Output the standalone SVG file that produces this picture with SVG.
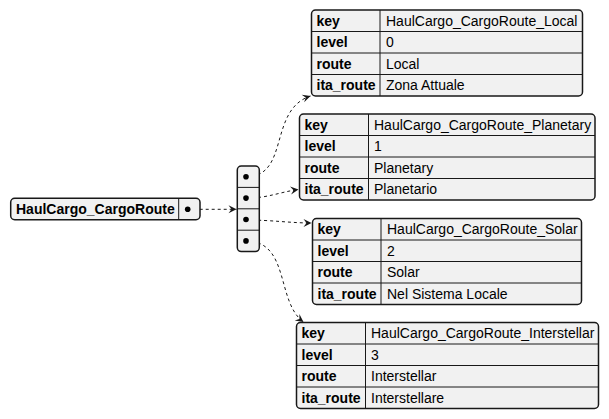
<svg xmlns="http://www.w3.org/2000/svg" width="609" height="419" viewBox="0 0 609 419">
<style>
.box{fill:#F1F1F1;stroke:#181818;stroke-width:1.5}
.ln{stroke:#181818;stroke-width:1}
.k{font-family:"Liberation Sans",Arial,sans-serif;font-size:14px;font-weight:bold;fill:#000}
.v{font-family:"Liberation Sans",Arial,sans-serif;font-size:14px;fill:#000}
.dot{fill:#000}
.con{fill:none;stroke:#181818;stroke-width:1;stroke-dasharray:3,3}
</style>
<defs>
<marker id="ah" viewBox="-10 -6 12 12" refX="0" refY="0" markerWidth="12" markerHeight="12" markerUnits="userSpaceOnUse" orient="auto">
<path d="M0,0 L-8,-4 L-5,0 L-8,4 Z" fill="#181818"/>
</marker>
</defs>
<g id="connectors">
<path class="con" d="M187.7,209.3 L236.5,209.3" marker-end="url(#ah)"/>
<path class="con" d="M246,176.7 C290,177 268,110 310.5,96" marker-end="url(#ah)"/>
<path class="con" d="M246,198.3 C268,198 280,192 298.5,189.5" marker-end="url(#ah)"/>
<path class="con" d="M246,220 C272,220 290,223 311.5,223" marker-end="url(#ah)"/>
<path class="con" d="M246,240.9 C290,241 276,302 303.5,322" marker-end="url(#ah)"/>
</g>
<g id="HaulCargo_CargoRoute">
<rect class="box" x="10.7" y="198.3" width="189.3" height="21.4" rx="4"/>
<line class="ln" x1="178.7" y1="198.3" x2="178.7" y2="219.7"/>
<text class="k" x="16" y="214">HaulCargo_CargoRoute</text>
<circle class="dot" cx="187.7" cy="209.3" r="2.8"/>
</g>
<g id="array">
<rect class="box" x="237.3" y="166" width="22" height="85.6" rx="4"/>
<line class="ln" x1="237.3" y1="187.4" x2="259.3" y2="187.4"/>
<line class="ln" x1="237.3" y1="208.8" x2="259.3" y2="208.8"/>
<line class="ln" x1="237.3" y1="230.2" x2="259.3" y2="230.2"/>
<circle class="dot" cx="246" cy="176.7" r="2.8"/>
<circle class="dot" cx="246" cy="198.1" r="2.8"/>
<circle class="dot" cx="246" cy="219.5" r="2.8"/>
<circle class="dot" cx="246" cy="240.9" r="2.8"/>
</g>
<g id="Local">
<rect class="box" x="311.5" y="10" width="271" height="86" rx="4"/>
<line class="ln" x1="380" y1="10" x2="380" y2="96"/>
<line class="ln" x1="311.5" y1="31.5" x2="582.5" y2="31.5"/>
<line class="ln" x1="311.5" y1="53" x2="582.5" y2="53"/>
<line class="ln" x1="311.5" y1="74.5" x2="582.5" y2="74.5"/>
<text class="k" x="316.5" y="25.5">key</text><text class="v" x="386" y="25.5">HaulCargo_CargoRoute_Local</text>
<text class="k" x="316.5" y="47">level</text><text class="v" x="386" y="47">0</text>
<text class="k" x="316.5" y="68.5">route</text><text class="v" x="386" y="68.5">Local</text>
<text class="k" x="316.5" y="90">ita_route</text><text class="v" x="386" y="90">Zona Attuale</text>
</g>
<g id="Planetary">
<rect class="box" x="299.5" y="114" width="295.5" height="86" rx="4"/>
<line class="ln" x1="368.5" y1="114" x2="368.5" y2="200"/>
<line class="ln" x1="299.5" y1="135.5" x2="595" y2="135.5"/>
<line class="ln" x1="299.5" y1="157" x2="595" y2="157"/>
<line class="ln" x1="299.5" y1="178.5" x2="595" y2="178.5"/>
<text class="k" x="304.5" y="129.5">key</text><text class="v" x="374" y="129.5">HaulCargo_CargoRoute_Planetary</text>
<text class="k" x="304.5" y="151">level</text><text class="v" x="374" y="151">1</text>
<text class="k" x="304.5" y="172.5">route</text><text class="v" x="374" y="172.5">Planetary</text>
<text class="k" x="304.5" y="194">ita_route</text><text class="v" x="374" y="194">Planetario</text>
</g>
<g id="Solar">
<rect class="box" x="312.5" y="218.5" width="269" height="86" rx="4"/>
<line class="ln" x1="381" y1="218.5" x2="381" y2="304.5"/>
<line class="ln" x1="312.5" y1="240" x2="581.5" y2="240"/>
<line class="ln" x1="312.5" y1="261.5" x2="581.5" y2="261.5"/>
<line class="ln" x1="312.5" y1="283" x2="581.5" y2="283"/>
<text class="k" x="317.5" y="234">key</text><text class="v" x="387" y="234">HaulCargo_CargoRoute_Solar</text>
<text class="k" x="317.5" y="255.5">level</text><text class="v" x="387" y="255.5">2</text>
<text class="k" x="317.5" y="277">route</text><text class="v" x="387" y="277">Solar</text>
<text class="k" x="317.5" y="298.5">ita_route</text><text class="v" x="387" y="298.5">Nel Sistema Locale</text>
</g>
<g id="Interstellar">
<rect class="box" x="296.5" y="322.5" width="302" height="86" rx="4"/>
<line class="ln" x1="365.5" y1="322.5" x2="365.5" y2="408.5"/>
<line class="ln" x1="296.5" y1="344" x2="598.5" y2="344"/>
<line class="ln" x1="296.5" y1="365.5" x2="598.5" y2="365.5"/>
<line class="ln" x1="296.5" y1="387" x2="598.5" y2="387"/>
<text class="k" x="301.5" y="338">key</text><text class="v" x="371" y="338">HaulCargo_CargoRoute_Interstellar</text>
<text class="k" x="301.5" y="359.5">level</text><text class="v" x="371" y="359.5">3</text>
<text class="k" x="301.5" y="381">route</text><text class="v" x="371" y="381">Interstellar</text>
<text class="k" x="301.5" y="402.5">ita_route</text><text class="v" x="371" y="402.5">Interstellare</text>
</g>
</svg>
